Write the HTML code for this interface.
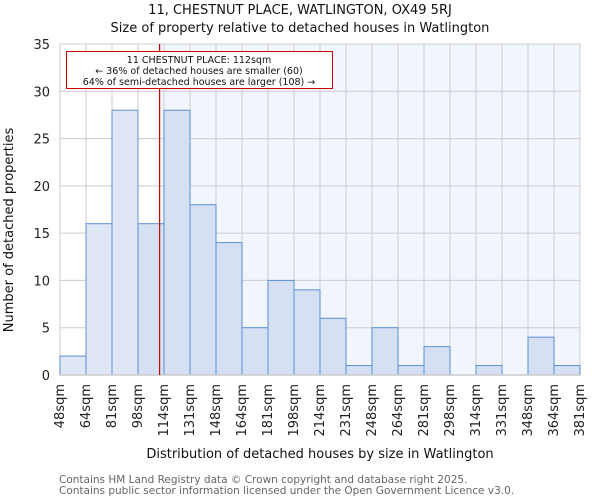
<!DOCTYPE html>
<html><head><meta charset="utf-8"><style>
body{margin:0;background:#fff;font-family:"DejaVu Sans","Liberation Sans",sans-serif;}
</style></head><body>
<svg width="600" height="500" xmlns="http://www.w3.org/2000/svg" font-family="DejaVu Sans, Liberation Sans, sans-serif">
<g id="root"></g>
</svg>
<script>
const binLabels=["48sqm","64sqm","81sqm","98sqm","114sqm","131sqm","148sqm","164sqm","181sqm","198sqm","214sqm","231sqm","248sqm","264sqm","281sqm","298sqm","314sqm","331sqm","348sqm","364sqm","381sqm"];
const counts=[2,16,28,16,28,18,14,5,10,9,6,1,5,1,3,0,1,0,4,1];
const yTicks=[0,5,10,15,20,25,30,35];
const markerBin=3.83;
const L=60,R=580,T=44,B=375,yMax=35;
const n=counts.length,bw=(R-L)/n;
const xs=i=>L+i*bw, ys=v=>B-(B-T)*v/yMax;
const root=document.getElementById('root');
const NS='http://www.w3.org/2000/svg';
function mk(tag,at,txt){const e=document.createElementNS(NS,tag);for(const k in at)e.setAttribute(k,at[k]);if(txt!=null)e.textContent=txt;root.appendChild(e);return e;}
const mx=xs(markerBin);
let e;
e=mk('rect',{x:L,y:T,width:mx-L,height:B-T,fill:'#ffffff'});


e=mk('rect',{x:mx,y:T,width:R-mx,height:B-T,fill:'#f1f5fd'});


for(let i=0;i<=n;i++){e=mk('line',{x1:xs(i),x2:xs(i),y1:T,y2:B,stroke:'#cccccc','stroke-width':1});

}
yTicks.forEach(v=>{e=mk('line',{x1:L,x2:R,y1:ys(v),y2:ys(v),stroke:'#cccccc','stroke-width':1});


e=mk('text',{x:L-10,y:ys(v)+5,'text-anchor':'end','font-size':13,fill:'#222'},String(v));

});
counts.forEach((c,i)=>{if(c<=0)return;const left=(i+1)<=markerBin;
e=mk('rect',{x:xs(i),y:ys(c),width:bw,height:B-ys(c),fill:left?'#dfe7f4':'#d5e1f3',stroke:'#5b8fd6','stroke-width':1});

});
e=mk('line',{x1:L,x2:R,y1:B,y2:B,stroke:'#cccccc','stroke-width':1.5});


binLabels.forEach((s,i)=>{const x=xs(i)+4;e=mk('text',{x:x,y:384,transform:`rotate(-90 ${x} 384)`,'text-anchor':'end','font-size':13,fill:'#222'},s);

});
e=mk('line',{x1:mx,x2:mx,y1:T,y2:B,stroke:'#cc0000','stroke-width':1.2});


e=mk('rect',{x:66.5,y:51.5,width:266,height:37,fill:'#fff',stroke:'#cc0000','stroke-width':1});


[["11 CHESTNUT PLACE: 112sqm",63],["\u2190 36% of detached houses are smaller (60)",74],["64% of semi-detached houses are larger (108) \u2192",85]].forEach(([t,y])=>{
e=mk('text',{x:199,y:y,'text-anchor':'middle','font-size':9.5,fill:'#111'},t);

});
e=mk('text',{x:300,y:14,'text-anchor':'middle','font-size':13,fill:'#111'},"11, CHESTNUT PLACE, WATLINGTON, OX49 5RJ");


e=mk('text',{x:300,y:32,'text-anchor':'middle','font-size':13,fill:'#111'},"Size of property relative to detached houses in Watlington");


e=mk('text',{x:320,y:458,'text-anchor':'middle','font-size':13,fill:'#111'},"Distribution of detached houses by size in Watlington");


e=mk('text',{x:13,y:230,transform:'rotate(-90 13 230)','text-anchor':'middle','font-size':13,fill:'#111'},"Number of detached properties");


e=mk('text',{x:59,y:483,'font-size':10.5,fill:'#666'},"Contains HM Land Registry data \u00a9 Crown copyright and database right 2025.");


e=mk('text',{x:59,y:494,'font-size':10.5,fill:'#666'},"Contains public sector information licensed under the Open Government Licence v3.0.");


</script>
</body></html>
